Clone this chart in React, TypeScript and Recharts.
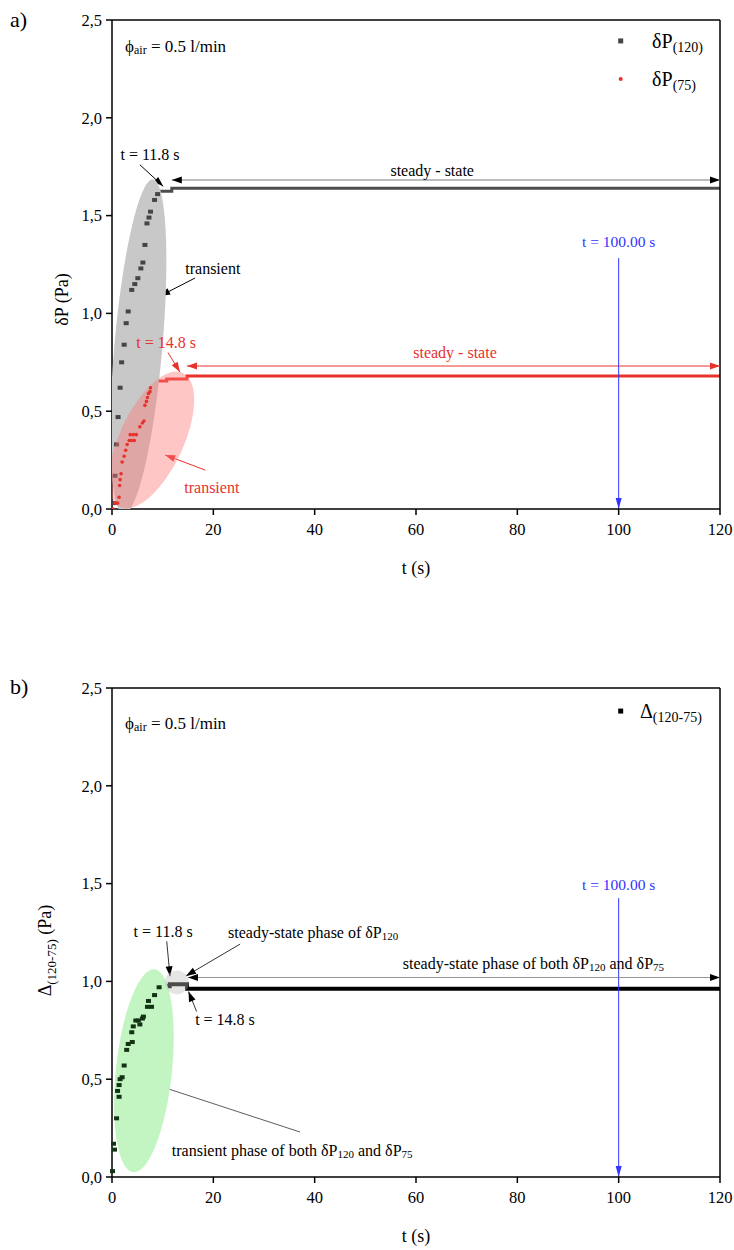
import React from "react";
import {
  ComposedChart,
  Line,
  ReferenceDot,
  ReferenceLine,
  Scatter,
  XAxis,
  YAxis,
} from "recharts";

const FONT = '"Liberation Serif", "DejaVu Serif", serif';

// panel a) – transient samples, t in s, δP in Pa
const p120T = [0.4, 0.6, 0.9, 1.2, 1.6, 1.9, 2.4, 2.8, 3.2, 3.9, 4.5, 5.1, 5.7, 6.1, 6.5, 6.9, 7.3, 7.6, 8.4, 9.0];
const p120V = [0.03, 0.17, 0.33, 0.47, 0.62, 0.75, 0.84, 0.95, 1.01, 1.12, 1.15, 1.18, 1.23, 1.26, 1.35, 1.46, 1.49, 1.52, 1.58, 1.61];
const p75T = [0.2, 0.6, 1.1, 1.4, 1.5, 1.6, 1.8, 2.0, 2.4, 2.7, 3.0, 3.4, 3.9, 4.4, 3.6, 4.2, 4.8, 5.5, 6.0, 6.3, 6.5, 6.8, 7.0, 7.2, 7.5, 7.6];
const p75V = [0.0, 0.03, 0.03, 0.06, 0.12, 0.15, 0.18, 0.24, 0.27, 0.3, 0.33, 0.35, 0.35, 0.35, 0.38, 0.38, 0.38, 0.42, 0.44, 0.45, 0.53, 0.55, 0.57, 0.59, 0.6, 0.62];
// steady-state steps
const s120T = [9.5, 11.8, 120];
const s120V = [1.625, 1.64, 1.64];
const s75T = [7.4, 10.8, 14.8, 120];
const s75V = [0.655, 0.665, 0.68, 0.68];

// panel b) – difference δP120 - δP75
const dT = [0.1, 0.3, 0.5, 0.9, 1.1, 1.4, 1.4, 1.6, 2.0, 2.4, 2.9, 3.2, 3.9, 4.0, 4.2, 4.7, 5.2, 5.5, 6.0, 6.2, 7.0, 7.2, 7.8, 8.4, 9.3];
const dV = [0.03, 0.17, 0.14, 0.3, 0.44, 0.41, 0.47, 0.5, 0.51, 0.57, 0.65, 0.68, 0.74, 0.69, 0.77, 0.8, 0.8, 0.78, 0.81, 0.82, 0.87, 0.9, 0.87, 0.93, 0.97];
const sdT = [9.6, 11.4, 14.8, 120];
const sdV = [0.975, 0.985, 0.962, 0.962];

const xTicks = [0, 20, 40, 60, 80, 100, 120];
const yTicks = [0, 0.5, 1, 1.5, 2, 2.5];

const zip = (ts: number[], vs: number[]) => ts.map((t, i) => ({ t, v: vs[i] }));

const pts120 = zip(p120T, p120V);
const pts75 = zip(p75T, p75V);
const steady120 = zip(s120T, s120V);
const steady75 = zip(s75T, s75V);
const ptsD = zip(dT, dV);
const steadyD = zip(sdT, sdV);

const W = 734;
const H = 580;
const MARGIN = { top: 20, right: 14, bottom: 31, left: 52 };
const Y_W = 60;
const X_H = 40;
const PLOT = {
  x: MARGIN.left + Y_W,
  y: MARGIN.top,
  w: W - MARGIN.left - Y_W - MARGIN.right,
  h: H - MARGIN.top - MARGIN.bottom - X_H,
};

const rectShape = (fill: string, w: number, h: number) => (p: any) =>
  <rect x={p.cx - w / 2} y={p.cy - h / 2} width={w} height={h} fill={fill} />;
const dotShape = (fill: string, r: number) => (p: any) => <circle cx={p.cx} cy={p.cy} r={r} fill={fill} />;

// text with subscripts: plain strings and [sub] arrays
type Part = string | [string];
const rich = (parts: Part[], subSize = 11, dy = 4) =>
  parts.map((p, i) => {
    const isSub = Array.isArray(p);
    const prevSub = i > 0 && Array.isArray(parts[i - 1]);
    const d = isSub ? dy : prevSub ? -dy : 0;
    return (
      <tspan key={i} dy={d || undefined} fontSize={isSub ? subSize : undefined}>
        {isSub ? p[0] : p}
      </tspan>
    );
  });

const note = (
  t: number,
  v: number,
  body: React.ReactNode,
  color = "#000",
  anchor: "start" | "middle" = "middle",
  size = 16,
) => (
  <ReferenceDot
    x={t}
    y={v}
    ifOverflow="visible"
    shape={(p: any) => (
      <text
        x={p.cx}
        y={p.cy}
        fill={color}
        fontSize={size}
        style={{ fontFamily: FONT }}
        textAnchor={anchor}
        dominantBaseline="central"
      >
        {body}
      </text>
    )}
  />
);

const marker = (t: number, v: number, shape: (p: any) => React.ReactElement) => (
  <ReferenceDot x={t} y={v} ifOverflow="visible" shape={shape} />
);

const arrowShape =
  (color: string, line: string, w: number, both: boolean, hl: number, hw: number) => (p: any) => {
    const { x1, y1, x2, y2 } = p;
    const L = Math.hypot(x2 - x1, y2 - y1) || 1;
    const ux = (x2 - x1) / L;
    const uy = (y2 - y1) / L;
    const head = (x: number, y: number, sx: number, sy: number) => {
      const bx = x - sx * hl;
      const by = y - sy * hl;
      return `${x},${y} ${bx - sy * hw},${by + sx * hw} ${bx + sy * hw},${by - sx * hw}`;
    };
    return (
      <g>
        <line x1={x1} y1={y1} x2={x2} y2={y2} stroke={line} strokeWidth={w} />
        <polygon points={head(x2, y2, ux, uy)} fill={color} />
        {both && <polygon points={head(x1, y1, -ux, -uy)} fill={color} />}
      </g>
    );
  };

const arrow = (
  a: [number, number],
  b: [number, number],
  color = "#000",
  o: { both?: boolean; line?: string; w?: number; hl?: number; hw?: number } = {},
) => (
  <ReferenceLine
    segment={[{ x: a[0], y: a[1] }, { x: b[0], y: b[1] }]}
    ifOverflow="visible"
    shape={arrowShape(color, o.line ?? color, o.w ?? 1, !!o.both, o.hl ?? 10, o.hw ?? 3.5)}
  />
);

// shaded regions, clipped to the plot area
const blob = (id: string, t: number, v: number, rx: number, ry: number, rot: number, fill: string, op = 1) => (
  <ReferenceDot
    x={t}
    y={v}
    ifOverflow="visible"
    shape={(p: any) => (
      <g clipPath={`url(#${id})`}>
        <defs>
          <clipPath id={id}>
            <rect x={PLOT.x} y={PLOT.y} width={PLOT.w} height={PLOT.h} />
          </clipPath>
        </defs>
        <ellipse
          cx={p.cx}
          cy={p.cy}
          rx={rx}
          ry={ry}
          fill={fill}
          fillOpacity={op}
          transform={`rotate(${rot} ${p.cx} ${p.cy})`}
        />
      </g>
    )}
  />
);

const axisProps = {
  axisLine: { stroke: "#000", strokeWidth: 1.5 },
  tickLine: { stroke: "#000", strokeWidth: 1.5 },
  tickSize: 6,
};

const tickStyle = { fontSize: 16.5, fill: "#000", fontFamily: FONT };
const fmtY = (v: number) => v.toFixed(1).replace(".", ",");

const xTitle = (p: any) => {
  const vb = p.viewBox;
  return (
    <text x={vb.x + vb.width / 2} y={vb.y + 59} textAnchor="middle" dominantBaseline="central" fontSize={18} style={{ fontFamily: FONT }}>
      t (s)
    </text>
  );
};

const yTitle = (body: React.ReactNode, x: number, shift: number) => (p: any) => {
  const vb = p.viewBox;
  const y = vb.y + vb.height / 2 + shift;
  return (
    <text x={x} y={y} transform={`rotate(-90 ${x} ${y})`} textAnchor="middle" dominantBaseline="central" fontSize={18} style={{ fontFamily: FONT }}>
      {body}
    </text>
  );
};

const frame = () => [
  <ReferenceLine key="ft" y={2.5} stroke="#000" strokeWidth={1.5} />,
  <ReferenceLine key="fr" x={120} stroke="#000" strokeWidth={1.5} />,
];

const phi = rich(["ϕ", ["air"], " = 0.5 l/min"], 12, 4);

const GREY = "#454545";
const RED = "#e8322c";
const BLUE = "#3333ff";
const DARK = "#143214";

export default function App() {
  return (
    <div style={{ position: "absolute", left: 0, top: 0, width: 734, height: 1250, background: "#fff", fontFamily: FONT }}>
      <div style={{ position: "absolute", left: 10, top: 7, fontSize: 22 }}>a)</div>
      <div style={{ position: "absolute", left: 0, top: 0 }}>
        <ComposedChart width={W} height={H} margin={MARGIN}>
          <XAxis
            dataKey="t"
            type="number"
            domain={[0, 120]}
            ticks={xTicks}
            tick={tickStyle}
            tickMargin={8}
            height={X_H}
            {...axisProps}
            label={xTitle}
          />
          <YAxis
            dataKey="v"
            type="number"
            domain={[0, 2.5]}
            ticks={yTicks}
            allowDataOverflow
            tickFormatter={fmtY}
            tick={tickStyle}
            tickMargin={4}
            width={Y_W}
            {...axisProps}
            label={yTitle("δP (Pa)", 62, 35)}
          />
          {blob("clipA1", 5.2, 0.83, 24, 168, 5, "#c8c8c8")}
          <Scatter data={pts120} shape={rectShape(GREY, 5, 4)} isAnimationActive={false} />
          <Line data={steady120} dataKey="v" type="stepAfter" stroke="#4d4d4d" strokeWidth={3} dot={false} isAnimationActive={false} />
          {blob("clipA2", 7.8, 0.353, 32, 74, 25, "#ff7878", 0.42)}
          <Scatter data={pts75} shape={dotShape(RED, 1.8)} isAnimationActive={false} />
          <Line data={steady75} dataKey="v" type="stepAfter" stroke={RED} strokeWidth={3} dot={false} isAnimationActive={false} />
          {frame()}

          {note(2.57, 2.367, phi, "#000", "start", 17)}
          {marker(100.4, 2.393, rectShape(GREY, 5, 5))}
          {note(106.6, 2.393, rich(["δP", ["(120)"]], 14, 6), "#000", "start", 20)}
          {marker(100.4, 2.198, dotShape(RED, 2))}
          {note(106.6, 2.198, rich(["δP", ["(75)"]], 14, 6), "#000", "start", 20)}

          {note(7.5, 1.81, "t = 11.8 s")}
          {arrow([5.5, 1.76], [10.1, 1.65])}
          {note(63.2, 1.733, "steady - state")}
          {arrow([11.8, 1.682], [120, 1.682], "#000", { both: true, line: "#7a7a7a" })}
          {note(19.9, 1.232, "transient")}
          {arrow([16.4, 1.181], [9.5, 1.089])}

          {note(10.7, 0.849, "t = 14.8 s", RED)}
          {arrow([11.05, 0.8], [13.4, 0.7], RED)}
          {note(67.7, 0.798, "steady - state", RED)}
          {arrow([14.8, 0.731], [120, 0.731], RED, { both: true })}
          {note(19.7, 0.112, "transient", RED)}
          {arrow([18.4, 0.199], [10.5, 0.276], RED)}

          {note(100, 1.37, "t = 100.00 s", BLUE, "middle", 15.5)}
          {arrow([100, 1.283], [100, 0], BLUE, { hl: 11, hw: 3 })}
        </ComposedChart>
      </div>

      <div style={{ position: "absolute", left: 10, top: 674, fontSize: 22 }}>b)</div>
      <div style={{ position: "absolute", left: 0, top: 668 }}>
        <ComposedChart width={W} height={H} margin={MARGIN}>
          <XAxis
            dataKey="t"
            type="number"
            domain={[0, 120]}
            ticks={xTicks}
            tick={tickStyle}
            tickMargin={8}
            height={X_H}
            {...axisProps}
            label={xTitle}
          />
          <YAxis
            dataKey="v"
            type="number"
            domain={[0, 2.5]}
            ticks={yTicks}
            allowDataOverflow
            tickFormatter={fmtY}
            tick={tickStyle}
            tickMargin={4}
            width={Y_W}
            {...axisProps}
            label={yTitle(rich(["Δ", ["(120-75)"], " (Pa)"], 13, 6), 45, 18)}
          />
          {blob("clipB1", 6.3, 0.543, 28, 102, 6, "#c2f5c2")}
          <Scatter data={ptsD} shape={rectShape(DARK, 5, 4)} isAnimationActive={false} />
          <Line data={steadyD} dataKey="v" type="stepAfter" stroke="#000" strokeWidth={4} dot={false} isAnimationActive={false} />
          {blob("clipB2", 12.8, 0.995, 12, 12, 0, "#bdbdbd", 0.4)}
          {frame()}

          {note(2.57, 2.321, phi, "#000", "start", 17)}
          {marker(100.4, 2.382, rectShape("#000", 5, 5))}
          {note(104.2, 2.38, rich(["Δ", ["(120-75)"]], 14, 6), "#000", "start", 20)}

          {note(100, 1.493, "t = 100.00 s", BLUE, "middle", 15.5)}
          {arrow([100, 1.426], [100, 0], BLUE, { hl: 11, hw: 3 })}

          {note(10.1, 1.253, "t = 11.8 s")}
          {arrow([10.8, 1.205], [11.45, 1.026], "#000", { w: 0.8 })}
          {note(22.9, 1.253, rich(["steady-state phase of δP", ["120"]]), "#000", "start")}
          {arrow([25.3, 1.191], [14.6, 1.028], "#000", { w: 0.8 })}
          {arrow([15, 1.02], [120, 1.02], "#000", { both: true, line: "#7a7a7a", w: 0.8 })}
          {note(57.4, 1.094, rich(["steady-state phase of both δP", ["120"], " and δP", ["75"]]), "#000", "start")}
          {note(22.3, 0.803, "t = 14.8 s")}
          {arrow([16.7, 0.846], [15.1, 0.948], "#000", { w: 0.8 })}
          {note(11.8, 0.138, rich(["transient phase of both δP", ["120"], " and δP", ["75"]]), "#000", "start")}
          {arrow([37.1, 0.23], [8.1, 0.476], "#333", { w: 0.8 })}
        </ComposedChart>
      </div>
    </div>
  );
}
